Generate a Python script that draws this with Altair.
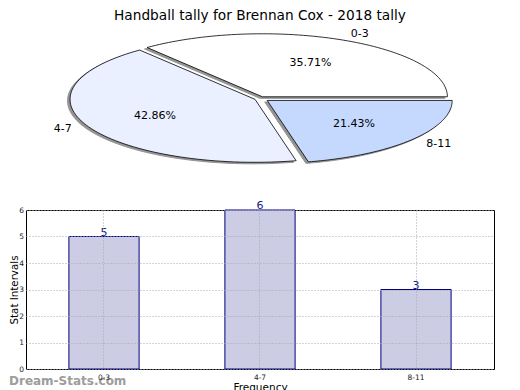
import altair as alt
import pandas as pd

categories = ["0-3", "4-7", "8-11"]
counts = [5, 6, 3]
explode = [0.03, 0.03, 0.05]
slice_colors = ["#FFFFFF", "#EAF0FF", "#C5D9FF"]
title_text = "Handball tally for Brennan Cox - 2018 tally"
y_ticks = [0, 1, 2, 3, 4, 5, 6]

df = pd.DataFrame({"cat": categories, "count": counts, "ord": list(range(len(categories))), "ex": explode})

FONT = "DejaVu Sans"
STEPS = 80

base = (
    alt.Chart(df)
    .transform_joinaggregate(total="sum(count)")
    .transform_window(cum="sum(count)", sort=[alt.SortField("ord")], frame=[None, 0])
    .transform_calculate(
        a0="(datum.cum - datum.count) / datum.total * 2 * PI",
        a1="datum.cum / datum.total * 2 * PI",
    )
    .transform_calculate(
        mid="(datum.a0 + datum.a1) / 2",
        pct="format(datum.count / datum.total * 100, '.2f') + '%'",
    )
    .transform_calculate(
        ox="datum.ex * cos(datum.mid)",
        oy="datum.ex * sin(datum.mid)",
    )
)

xs = alt.Scale(domain=[-1.265, 1.265])
ys = alt.Scale(domain=[-1.278, 1.230])

verts = (
    base.transform_calculate(idx=f"sequence(-1, {STEPS + 2})")
    .transform_flatten(["idx"])
    .transform_calculate(ang=f"datum.a0 + (datum.a1 - datum.a0) * datum.idx / {STEPS}")
    .transform_calculate(
        px=f"datum.ox + ((datum.idx < 0 || datum.idx > {STEPS}) ? 0 : cos(datum.ang))",
        py=f"datum.oy + ((datum.idx < 0 || datum.idx > {STEPS}) ? 0 : sin(datum.ang))",
    )
)

enc = dict(
    x=alt.X("px:Q", scale=xs, axis=None),
    y=alt.Y("py:Q", scale=ys, axis=None),
    order=alt.Order("idx:Q"),
    detail="cat:N",
)

shadow = verts.mark_line(
    fill="#8a8a8a", stroke="#8a8a8a", strokeWidth=1, xOffset=-2.5, yOffset=1.5, opacity=0.9
).encode(**enc)

wedges = verts.mark_line(stroke="#000000", strokeWidth=0.8).encode(
    fill=alt.Fill("cat:N", scale=alt.Scale(domain=categories, range=slice_colors), legend=None),
    **enc,
)

lab = base.transform_calculate(
    lx="datum.ox + 1.1 * cos(datum.mid)",
    ly="datum.oy + 1.1 * sin(datum.mid)",
    tx="datum.ox + 0.6 * cos(datum.mid)",
    ty="datum.oy + 0.6 * sin(datum.mid)",
)
lab_right = lab.transform_filter("cos(datum.mid) >= 0").mark_text(
    align="left", baseline="middle", font=FONT, fontSize=11, color="black"
).encode(x=alt.X("lx:Q", scale=xs, axis=None), y=alt.Y("ly:Q", scale=ys, axis=None), text="cat:N")
lab_left = lab.transform_filter("cos(datum.mid) < 0").mark_text(
    align="right", baseline="middle", font=FONT, fontSize=11, color="black"
).encode(x=alt.X("lx:Q", scale=xs, axis=None), y=alt.Y("ly:Q", scale=ys, axis=None), text="cat:N")
pct = lab.mark_text(align="center", baseline="middle", font=FONT, fontSize=11, color="black").encode(
    x=alt.X("tx:Q", scale=xs, axis=None), y=alt.Y("ty:Q", scale=ys, axis=None), text="pct:N"
)

pie = alt.layer(shadow, wedges, lab_right, lab_left, pct).properties(
    width=468,
    height=158,
    title=alt.TitleParams(
        title_text, font=FONT, fontSize=13.7, fontWeight="normal", color="black",
        offset=-2, anchor="middle", frame="group",
    ),
    view=alt.ViewBackground(stroke="transparent"),
)

bdf = pd.DataFrame({"cat": categories, "count": counts})

xb = alt.X(
    "cat:N",
    sort=categories,
    scale=alt.Scale(paddingInner=0.55, paddingOuter=0.275),
    axis=alt.Axis(
        title="Frequency", labelAngle=0, grid=True, bandPosition=0.5, gridDash=[1, 2], gridColor="#a8a8a8",
        domain=False, ticks=False, labelFont=FONT, labelFontSize=7.5, labelColor="#222222", labelPadding=4,
        titleFont=FONT, titleFontSize=10.5, titleFontWeight="normal", titleColor="black", titlePadding=2,
        zindex=1,
    ),
)
yb = alt.Y(
    "count:Q",
    scale=alt.Scale(domain=[0, 6]),
    axis=alt.Axis(
        title="Stat Intervals", values=y_ticks, grid=True, gridDash=[1, 2], gridColor="#a8a8a8",
        domain=False, ticks=False, labelFont=FONT, labelFontSize=7.5, labelColor="#222222", labelPadding=2.5,
        titleFont=FONT, titleFontSize=10.3, titleFontWeight="normal", titleColor="black",
        titleAngle=270, titleBaseline="alphabetic", titleAlign="center", titleX=-9, titleY=79.5,
        zindex=1,
    ),
)

bars = alt.Chart(bdf).mark_bar(fill="#CCCCE5", stroke="#000080", strokeWidth=1).encode(x=xb, y=yb)
vals = alt.Chart(bdf).mark_text(baseline="bottom", dy=1, font=FONT, fontSize=11, color="#1a1a8c").encode(
    x=xb, y=yb, text="count:Q"
)
mark_df = pd.DataFrame({"t": ["Dream-Stats.com"]})
water = alt.Chart(mark_df).mark_text(
    align="left", baseline="middle", font=FONT, fontSize=12, fontWeight="bold", color="#8c8c8c", opacity=0.85
).encode(x=alt.value(-17), y=alt.value(171), text="t:N")

barchart = alt.layer(bars, vals, water).properties(
    width=468, height=159, view=alt.ViewBackground(stroke="black", strokeWidth=1)
)

chart = (
    alt.vconcat(pie, barchart, spacing=31, bounds="flush")
    .properties(padding={"left": 0, "top": 0, "right": 0, "bottom": 0})
    .configure_view(stroke="transparent")
)

chart.save("out.html", embed_options={"renderer": "svg", "actions": False})
